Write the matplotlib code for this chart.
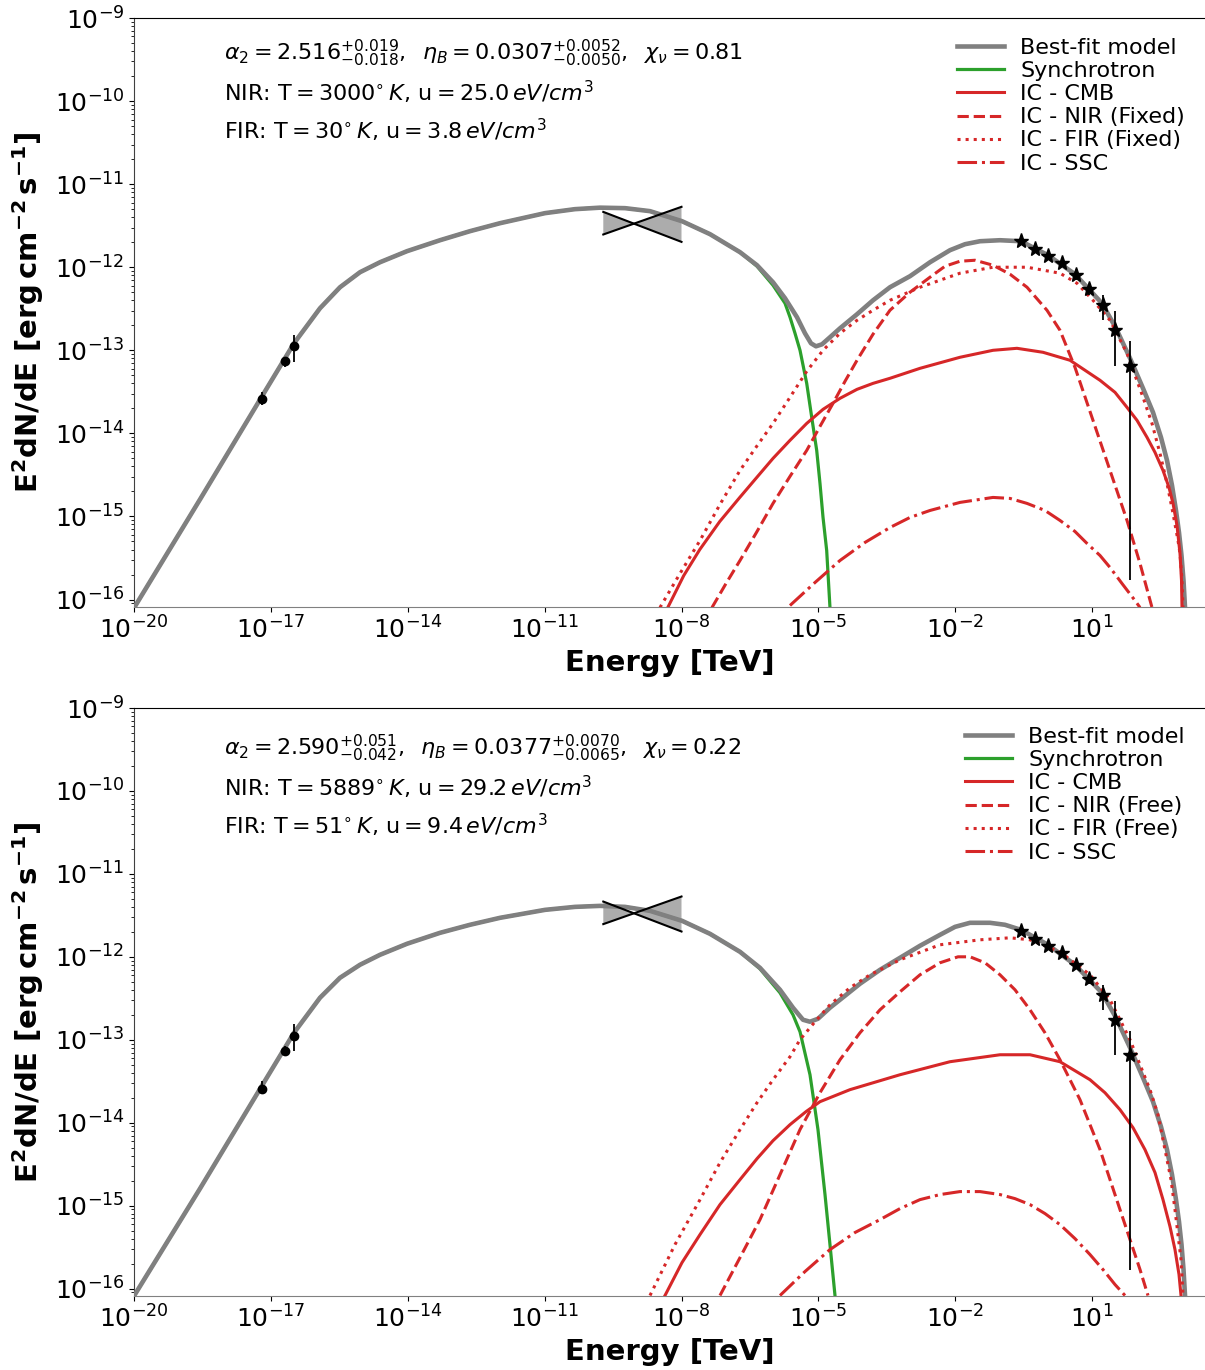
import numpy as np
import matplotlib
matplotlib.use("Agg")
import matplotlib.pyplot as plt

# ---------------- data (log10 E [TeV], log10 E^2dN/dE [erg cm^-2 s^-1]) ----------------
# Top panel (fixed radiation fields)
t_model_x = [-20.000, -18.559, -17.200, -16.498, -15.928, -15.489, -15.050, -14.612, -14.020, -13.296,
             -12.638, -11.980, -10.993, -10.336, -9.787, -9.239, -8.691, -7.989, -7.375, -6.717, -6.344,
             -5.993, -5.730, -5.467, -5.292, -5.160, -5.051, -4.919, -4.744, -4.524, -4.151, -3.800,
             -3.428, -2.989, -2.550, -2.112, -1.783, -1.454, -1.016, -0.555, 0.037, 0.629, 1.221,
             1.529, 1.836, 2.121, 2.340, 2.515, 2.647, 2.757, 2.844, 2.910, 2.965, 3.009, 3.042]
t_model_y = [-16.096, -14.795, -13.554, -12.916, -12.494, -12.241, -12.060, -11.940, -11.807, -11.675,
             -11.566, -11.470, -11.349, -11.301, -11.283, -11.289, -11.325, -11.446, -11.602, -11.819,
             -11.976, -12.181, -12.373, -12.602, -12.795, -12.916, -12.952, -12.928, -12.843, -12.735,
             -12.566, -12.398, -12.241, -12.108, -11.940, -11.795, -11.723, -11.687, -11.675, -11.687,
             -11.855, -12.084, -12.434, -12.735, -13.096, -13.458, -13.747, -14.048, -14.325, -14.627,
             -14.928, -15.193, -15.470, -15.771, -16.096]
t_sync_x = [-20.000, -18.559, -17.200, -16.498, -15.928, -15.489, -15.050, -14.612, -14.020, -13.296,
            -12.638, -11.980, -10.993, -10.336, -9.787, -9.239, -8.691, -7.989, -7.375, -6.717, -6.344,
            -5.993, -5.730, -5.620, -5.511, -5.401, -5.254, -5.145, -5.035, -4.963, -4.897, -4.816, -4.744]
t_sync_y = [-16.096, -14.795, -13.554, -12.916, -12.494, -12.241, -12.060, -11.940, -11.807, -11.675,
            -11.566, -11.470, -11.349, -11.301, -11.283, -11.289, -11.325, -11.446, -11.602, -11.819,
            -11.988, -12.217, -12.434, -12.602, -12.795, -13.000, -13.398, -13.804, -14.205, -14.602,
            -15.008, -15.410, -16.096]
t_cmb_x = [-8.301, -7.950, -7.599, -7.160, -6.722, -6.349, -5.993, -5.621, -5.254, -4.897, -4.524,
           -4.151, -3.800, -3.428, -2.770, -1.893, -1.169, -0.643, -0.072, 0.520, 1.178, 1.507, 1.770,
           1.989, 2.209, 2.384, 2.559, 2.691, 2.779, 2.866, 2.932, 2.965, 2.976]
t_cmb_y = [-16.096, -15.711, -15.398, -15.060, -14.771, -14.530, -14.301, -14.084, -13.880, -13.711,
           -13.578, -13.470, -13.398, -13.337, -13.217, -13.084, -13.000, -12.976, -13.024, -13.120,
           -13.361, -13.506, -13.687, -13.843, -14.048, -14.229, -14.446, -14.651, -14.843, -15.108,
           -15.446, -15.771, -16.096]
t_nir_x = [-7.331, -7.024, -6.717, -6.344, -5.993, -5.621, -5.254, -4.963, -4.678, -4.414, -4.151,
           -3.801, -3.428, -2.989, -2.550, -2.221, -1.893, -1.564, -1.169, -0.796, -0.423, 0.015,
           0.300, 0.629, 1.024, 1.397, 1.770, 2.055, 2.318]
t_nir_y = [-16.096, -15.807, -15.530, -15.181, -14.843, -14.518, -14.205, -13.916, -13.639, -13.373,
           -13.120, -12.807, -12.518, -12.301, -12.120, -11.988, -11.928, -11.916, -11.976, -12.084,
           -12.241, -12.518, -12.759, -13.205, -13.843, -14.446, -15.048, -15.566, -16.096]
t_fir_x = [-8.472, -8.033, -7.594, -7.156, -6.717, -6.344, -5.993, -5.621, -5.254, -4.897, -4.524,
           -4.151, -3.801, -3.428, -2.770, -1.893, -1.169, -0.423, 0.300, 0.673, 1.024, 1.397, 1.770,
           2.121, 2.318, 2.493, 2.647, 2.779, 2.888, 2.932, 2.976, 2.998]
t_fir_y = [-16.096, -15.687, -15.289, -14.855, -14.446, -14.150, -13.880, -13.566, -13.253, -13.000,
           -12.795, -12.639, -12.518, -12.398, -12.241, -12.072, -12.000, -12.000, -12.072, -12.193,
           -12.398, -12.639, -13.036, -13.566, -13.880, -14.241, -14.602, -14.964, -15.289, -15.446,
           -15.771, -16.096]
t_ssc_x = [-5.621, -5.072, -4.524, -3.976, -3.428, -2.989, -2.550, -1.893, -1.169, -0.796, -0.423,
           -0.029, 0.300, 0.629, 0.893, 1.178, 1.397, 1.660, 1.945, 2.055]
t_ssc_y = [-16.072, -15.795, -15.530, -15.313, -15.133, -15.012, -14.928, -14.831, -14.771, -14.783,
           -14.843, -14.928, -15.048, -15.181, -15.325, -15.470, -15.614, -15.807, -16.012, -16.096]

# Bottom panel (free radiation fields)
b_model_x = [-20.000, -18.559, -17.200, -16.498, -15.928, -15.489, -15.050, -14.612, -14.020, -13.296,
             -12.638, -11.980, -10.993, -10.336, -9.787, -9.239, -8.691, -7.989, -7.375, -6.717, -6.279,
             -5.840, -5.555, -5.336, -5.182, -5.007, -4.744, -4.415, -4.086, -3.647, -3.208, -2.770,
             -2.331, -2.002, -1.673, -1.235, -0.906, -0.555, 0.037, 0.629, 1.221, 1.529, 1.836, 2.121,
             2.340, 2.515, 2.647, 2.757, 2.844, 2.910, 2.965, 3.009, 3.042]
b_model_y = [-16.084, -14.795, -13.554, -12.916, -12.494, -12.253, -12.096, -11.976, -11.843, -11.711,
             -11.614, -11.530, -11.434, -11.398, -11.386, -11.398, -11.446, -11.566, -11.723, -11.940,
             -12.133, -12.398, -12.614, -12.759, -12.783, -12.747, -12.614, -12.470, -12.325, -12.157,
             -12.012, -11.867, -11.735, -11.639, -11.590, -11.590, -11.614, -11.675, -11.855, -12.096,
             -12.434, -12.735, -13.096, -13.458, -13.747, -14.048, -14.325, -14.627, -14.928, -15.193,
             -15.470, -15.771, -16.084]
b_sync_x = [-20.000, -18.559, -17.200, -16.498, -15.928, -15.489, -15.050, -14.612, -14.020, -13.296,
            -12.638, -11.980, -10.993, -10.336, -9.787, -9.239, -8.691, -7.989, -7.375, -6.717, -6.279,
            -5.840, -5.555, -5.401, -5.182, -5.007, -4.853, -4.744, -4.634]
b_sync_y = [-16.084, -14.795, -13.554, -12.916, -12.494, -12.253, -12.096, -11.976, -11.843, -11.711,
            -11.614, -11.530, -11.434, -11.398, -11.386, -11.398, -11.446, -11.566, -11.723, -11.940,
            -12.145, -12.434, -12.699, -12.904, -13.422, -14.084, -14.867, -15.470, -16.084]
b_cmb_x = [-8.362, -7.989, -7.594, -7.156, -6.717, -6.344, -5.993, -5.621, -5.270, -4.963, -4.305,
           -3.208, -2.112, -1.015, -0.357, 0.300, 0.958, 1.287, 1.616, 1.901, 2.164, 2.384, 2.559,
           2.713, 2.822, 2.910, 2.954]
b_cmb_y = [-16.084, -15.687, -15.349, -14.988, -14.687, -14.434, -14.217, -14.024, -13.867, -13.747,
           -13.602, -13.422, -13.265, -13.181, -13.181, -13.265, -13.482, -13.639, -13.843, -14.060,
           -14.325, -14.602, -14.928, -15.253, -15.530, -15.831, -16.084]
b_nir_x = [-7.156, -6.717, -6.279, -5.840, -5.402, -4.963, -4.524, -4.086, -3.647, -3.208, -2.770,
           -2.331, -1.936, -1.673, -1.344, -1.015, -0.686, -0.357, -0.029, 0.300, 0.739, 1.178, 1.616,
           2.055, 2.230]
b_nir_y = [-16.084, -15.627, -15.169, -14.627, -14.084, -13.639, -13.241, -12.916, -12.639, -12.422,
           -12.217, -12.072, -12.000, -12.000, -12.072, -12.217, -12.398, -12.639, -12.916, -13.241,
           -13.723, -14.325, -15.048, -15.771, -16.084]
b_fir_x = [-8.691, -8.143, -7.594, -7.156, -6.717, -6.344, -5.993, -5.621, -5.402, -5.072, -4.743,
           -4.305, -3.866, -3.208, -2.331, -1.454, -0.796, -0.357, 0.300, 0.958, 1.397, 1.836, 2.274,
           2.449, 2.603, 2.735, 2.822, 2.954, 2.998]
b_fir_y = [-16.084, -15.470, -14.928, -14.482, -14.084, -13.759, -13.482, -13.205, -13.000, -12.783,
           -12.578, -12.373, -12.217, -12.036, -11.855, -11.795, -11.771, -11.795, -11.940, -12.217,
           -12.518, -13.000, -13.602, -13.904, -14.325, -14.687, -15.048, -15.651, -16.084]
b_ssc_x = [-5.840, -5.292, -4.743, -4.197, -3.647, -3.208, -2.770, -2.331, -1.893, -1.454, -1.015,
           -0.686, -0.357, -0.029, 0.300, 0.629, 0.958, 1.243, 1.507, 1.726]
b_ssc_y = [-16.084, -15.795, -15.530, -15.325, -15.169, -15.036, -14.928, -14.867, -14.831, -14.831,
           -14.867, -14.916, -14.988, -15.096, -15.229, -15.398, -15.590, -15.771, -15.952, -16.084]

# Observations
radio_x = [-17.195, -16.70, -16.50]
radio_y = [-13.59, -13.13, -12.95]
radio_hi = [-13.50, -13.08, -12.81]
radio_lo = [-13.66, -13.20, -13.14]

hess_x = [-0.555, -0.248, 0.037, 0.338, 0.645, 0.936, 1.237, 1.513, 1.836]
hess_y = [-11.683, -11.783, -11.867, -11.952, -12.096, -12.265, -12.458, -12.759, -13.184]
hess_hi = [-11.65, -11.75, -11.83, -11.91, -12.05, -12.21, -12.337, -12.527, -12.892]
hess_lo = [-11.72, -11.82, -11.91, -12.00, -12.15, -12.33, -12.639, -13.19, -15.771]

# X-ray bowtie: left edge, pivot, right edge
bow_x = [-9.715, -9.02, -8.0]
bow_hi = [-11.334, -11.473, -11.273]
bow_lo = [-11.606, -11.473, -11.695]

panels = [
    dict(model=(t_model_x, t_model_y), sync=(t_sync_x, t_sync_y), cmb=(t_cmb_x, t_cmb_y),
         nir=(t_nir_x, t_nir_y), fir=(t_fir_x, t_fir_y), ssc=(t_ssc_x, t_ssc_y), tag="Fixed",
         lines=[r"$\alpha_2 = 2.516^{+0.019}_{-0.018},\;\; \eta_B = 0.0307^{+0.0052}_{-0.0050},\;\; \chi_\nu = 0.81$",
                r"NIR: T$ = 3000^{\circ}\,K$, u$ = 25.0\,eV/cm^3$",
                r"FIR: T$ = 30^{\circ}\,K$, u$ = 3.8\,eV/cm^3$"]),
    dict(model=(b_model_x, b_model_y), sync=(b_sync_x, b_sync_y), cmb=(b_cmb_x, b_cmb_y),
         nir=(b_nir_x, b_nir_y), fir=(b_fir_x, b_fir_y), ssc=(b_ssc_x, b_ssc_y), tag="Free",
         lines=[r"$\alpha_2 = 2.590^{+0.051}_{-0.042},\;\; \eta_B = 0.0377^{+0.0070}_{-0.0065},\;\; \chi_\nu = 0.22$",
                r"NIR: T$ = 5889^{\circ}\,K$, u$ = 29.2\,eV/cm^3$",
                r"FIR: T$ = 51^{\circ}\,K$, u$ = 9.4\,eV/cm^3$"]),
]

W, H = 1205, 1370
fig = plt.figure(figsize=(W / 100, H / 100), dpi=100)

GRAY = "#808080"
GREEN = "#2ca02c"
RED = "#d62728"

left_px = 134.3
px_per_dec = 45.6
xmax_exp = -20 + (W - left_px) / px_per_dec

axes_px = [(18, 607), (708, 1296)]
text_y = [(53, 92, 130), (748, 787, 825)]
legend_top = [38, 727]

def p(v):
    return 10 ** np.asarray(v, dtype=float)

for i, (pan, (top, bot)) in enumerate(zip(panels, axes_px)):
    ax = fig.add_axes([left_px / W, 1 - bot / H, (W - left_px) / W, (bot - top) / H])
    ax.set_xscale("log")
    ax.set_yscale("log")

    l_model, = ax.plot(p(pan["model"][0]), p(pan["model"][1]), color=GRAY, lw=3.3, zorder=3,
                       label="Best-fit model", solid_joinstyle="round")
    l_sync, = ax.plot(p(pan["sync"][0]), p(pan["sync"][1]), color=GREEN, lw=2.3, zorder=2,
                      label="Synchrotron", solid_joinstyle="round")
    l_cmb, = ax.plot(p(pan["cmb"][0]), p(pan["cmb"][1]), color=RED, lw=2.2, zorder=4, label="IC - CMB",
                     solid_joinstyle="round")
    l_nir, = ax.plot(p(pan["nir"][0]), p(pan["nir"][1]), color=RED, lw=2.2, ls="--", zorder=4,
                     label="IC - NIR (%s)" % pan["tag"])
    l_fir, = ax.plot(p(pan["fir"][0]), p(pan["fir"][1]), color=RED, lw=2.2, ls=":", zorder=4,
                     label="IC - FIR (%s)" % pan["tag"])
    l_ssc, = ax.plot(p(pan["ssc"][0]), p(pan["ssc"][1]), color=RED, lw=2.2, ls="-.", zorder=4,
                     label="IC - SSC")

    # bowtie
    bx = p(bow_x)
    bh = p(bow_hi)
    bl = p(bow_lo)
    ax.fill([bx[0], bx[0], bx[1]], [bl[0], bh[0], bh[1]], color="gray", alpha=0.65, lw=0, zorder=5)
    ax.fill([bx[1], bx[2], bx[2]], [bh[1], bh[2], bl[2]], color="gray", alpha=0.65, lw=0, zorder=5)
    ax.plot([bx[0], bx[2]], [bh[0], bl[2]], color="black", lw=1.5, zorder=6)
    ax.plot([bx[0], bx[2]], [bl[0], bh[2]], color="black", lw=1.5, zorder=6)

    # radio points
    ry = p(radio_y)
    ax.errorbar(p(radio_x), ry, yerr=[ry - p(radio_lo), p(radio_hi) - ry], fmt="o", color="black",
                ms=6, elinewidth=1.3, capsize=0, zorder=7)
    # HESS points
    hy = p(hess_y)
    ax.errorbar(p(hess_x), hy, yerr=[hy - p(hess_lo), p(hess_hi) - hy], fmt="*", color="black",
                ms=11, elinewidth=1.3, capsize=0, zorder=7)

    ax.set_xlim(1e-20, 10 ** xmax_exp)
    ax.set_ylim(10 ** -16.09, 1e-9)
    ax.set_xticks([10.0 ** k for k in range(-20, 2, 3)])
    ax.xaxis.set_minor_locator(matplotlib.ticker.NullLocator())
    ax.set_yticks([10.0 ** k for k in range(-16, -8)])
    ax.yaxis.set_minor_locator(matplotlib.ticker.LogLocator(base=10, subs=np.arange(2, 10), numticks=20))
    ax.yaxis.set_minor_formatter(matplotlib.ticker.NullFormatter())
    ax.tick_params(axis="both", which="major", labelsize=18)
    ax.spines["right"].set_visible(False)
    ax.spines["bottom"].set_color("#808080")
    ax.spines["left"].set_color("#404040")
    ax.spines["top"].set_color("black")

    ax.set_xlabel("Energy [TeV]", fontsize=21, fontweight="bold", labelpad=4)
    ax.set_ylabel(r"$\mathbf{E^2dN/dE\ [erg\,cm^{-2}\,s^{-1}]}$", fontsize=21, labelpad=6)

    for txt, yy in zip(pan["lines"], text_y[i]):
        fig.text(224 / W, 1 - yy / H, txt, fontsize=16, va="center", ha="left")

    leg = ax.legend(handles=[l_model, l_sync, l_cmb, l_nir, l_fir, l_ssc], loc="upper right",
                    bbox_to_anchor=(1185 / W, 1 - legend_top[i] / H), bbox_transform=fig.transFigure,
                    frameon=False, fontsize=16, labelspacing=0.14, handlelength=2.1,
                    handletextpad=0.75, borderpad=0, borderaxespad=0)

fig.savefig("out.png", dpi=100)
